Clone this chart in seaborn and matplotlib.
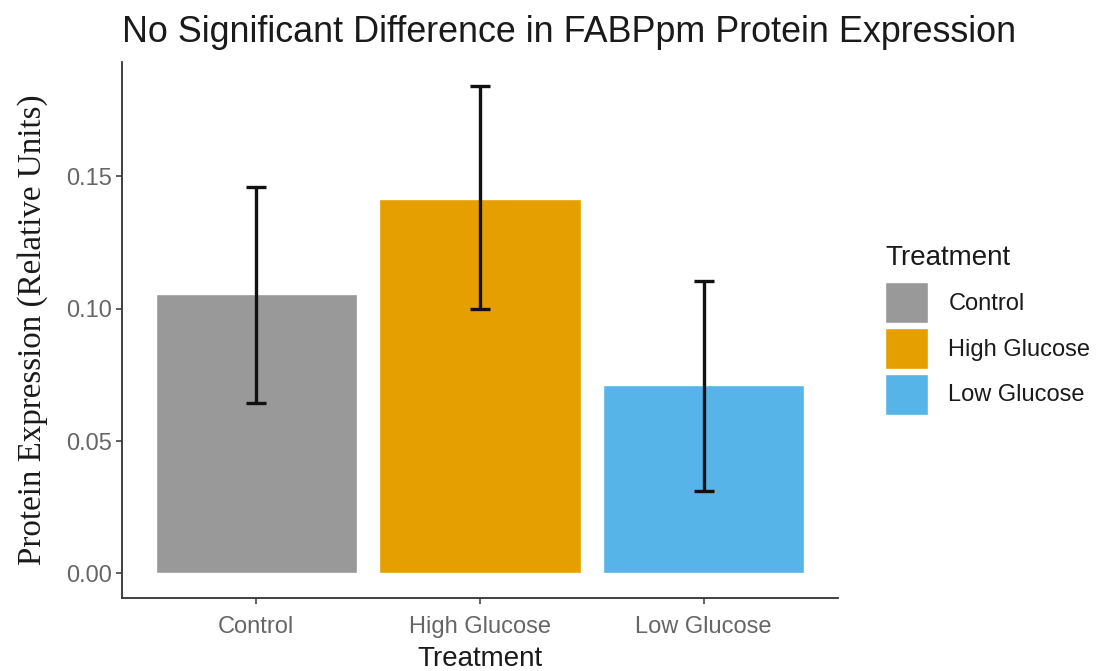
import matplotlib
matplotlib.use("Agg")
import matplotlib.pyplot as plt
import seaborn as sns
import pandas as pd

# Mean relative FABPpm expression per treatment with error-bar limits
treatments = ["Control", "High Glucose", "Low Glucose"]
means = [0.1055, 0.1415, 0.0710]
err_low = [0.0645, 0.1000, 0.0310]
err_high = [0.1460, 0.1840, 0.1105]
colors = ["#999999", "#E69F00", "#56B4E9"]

df = pd.DataFrame({"Treatment": treatments, "Expression": means})

sns.set_theme(style="ticks")
plt.rcParams["font.family"] = ["Liberation Sans", "DejaVu Sans"]

fig = plt.figure(figsize=(10.99, 6.71), dpi=100)
ax = fig.add_axes([0.111, 0.109, 0.6515, 0.799])

sns.barplot(data=df, x="Treatment", y="Expression", hue="Treatment",
            palette=colors, order=treatments, hue_order=treatments,
            width=0.9, dodge=False, errorbar=None, saturation=1,
            legend=True, ax=ax)

# Error bars from the stated lower/upper limits
for i, (m, lo, hi) in enumerate(zip(means, err_low, err_high)):
    ax.errorbar(i, m, yerr=[[m - lo], [hi - m]], fmt="none",
                ecolor="#111111", elinewidth=2.4, capsize=7.5, capthick=2.4)

ax.set_xlim(-0.6, 2.6)
ax.set_ylim(-0.0092, 0.1932)
ax.set_yticks([0.0, 0.05, 0.10, 0.15])
ax.set_yticklabels(["0.00", "0.05", "0.10", "0.15"])

for sp in ["top", "right"]:
    ax.spines[sp].set_visible(False)
for sp in ["left", "bottom"]:
    ax.spines[sp].set_color("#333333")
    ax.spines[sp].set_linewidth(1.3)

ax.tick_params(axis="both", colors="#333333", length=4.5, width=1.1,
               labelsize=17, labelcolor="#666666")
ax.tick_params(axis="x", pad=8.5)
ax.tick_params(axis="y", pad=3)

ax.set_xlabel("Treatment", fontsize=20, color="#1a1a1a", labelpad=6)
ax.set_ylabel("Protein Expression (Relative Units)", fontsize=23.8,
              family=["Liberation Serif", "DejaVu Serif"], color="#1a1a1a",
              labelpad=13)
ax.set_title("No Significant Difference in FABPpm Protein Expression",
             fontsize=25.8, color="#1a1a1a", loc="left", pad=14)

leg = ax.legend(title="Treatment", loc="center left",
                bbox_to_anchor=(1.053, 0.5), frameon=False,
                fontsize=17, title_fontsize=20,
                handlelength=1.82, handleheight=2.3, labelspacing=0.2,
                handletextpad=0.85, borderaxespad=0)
leg._legend_box.align = "left"
leg._legend_box.sep = 8
for t in leg.get_texts():
    t.set_color("#1a1a1a")
leg.get_title().set_color("#1a1a1a")

fig.savefig("out.png", dpi=100)
